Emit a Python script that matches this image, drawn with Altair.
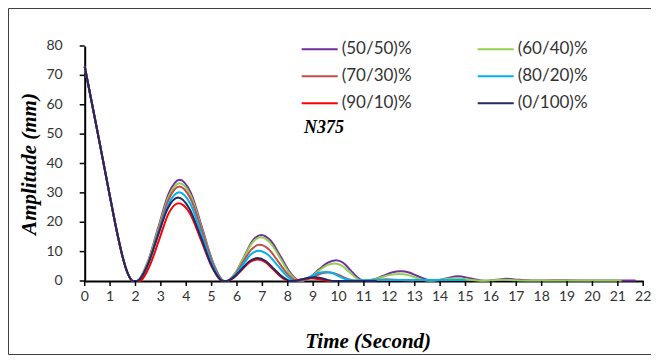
import altair as alt
import pandas as pd

SERIES = ["(50/50)%", "(60/40)%", "(70/30)%", "(80/20)%", "(90/10)%", "(0/100)%"]
COLORS = ["#7030A0", "#92D050", "#C0504D", "#00B0F0", "#FF0000", "#1F2A66"]

DESC_T = [0, 0.5, 1.0, 1.3, 1.5, 1.7, 1.9]
DESC_A = [73, 51, 28.5, 15.5, 8, 2.5, 0]

T_5050 = DESC_T + [2.05, 2.47, 2.90, 3.32, 3.74, 4.18, 4.62, 5.06, 5.5,
                   5.6, 5.94, 6.28, 6.61, 6.95, 7.33, 7.72, 8.10, 8.48,
                   8.52, 8.87, 9.21, 9.56, 9.9, 10.18, 10.46, 10.74, 11.02,
                   11.05, 11.4, 11.75, 12.1, 12.45, 12.78, 13.1, 13.43, 13.75,
                   14.22, 14.7, 15.22, 15.75,
                   16.2, 16.6, 17.1, 17.6,
                   18.5, 19.5, 20.5, 21.7]
A_5050 = DESC_A + [0, 6.2, 18.3, 30.0, 34.5, 30.0, 18.3, 6.2, 0,
                   0, 2.8, 8.3, 13.7, 15.7, 13.7, 8.3, 2.8, 0,
                   0, 1.3, 3.8, 6.2, 7.1, 6.2, 3.8, 1.3, 0,
                   0, 0.6, 1.7, 2.9, 3.3, 2.9, 1.7, 0.6, 0.05,
                   0.85, 1.6, 0.85, 0.05,
                   0.4, 0.75, 0.4, 0.15,
                   0.25, 0.2, 0.2, 0.2]

T_6040 = DESC_T + [2.05, 2.47, 2.90, 3.32, 3.74, 4.18, 4.62, 5.06, 5.5,
                   5.6, 5.93, 6.27, 6.60, 6.93, 7.31, 7.69, 8.06, 8.44,
                   8.5, 8.84, 9.18, 9.51, 9.85, 10.13, 10.4, 10.68, 10.95,
                   11.0, 11.35, 11.7, 12.05, 12.4, 12.7, 13.0, 13.3, 13.6,
                   14.1, 14.6, 15.1, 15.6,
                   16.05, 16.5, 17.0, 17.5,
                   18.5, 19.5, 20.5, 21.15]
A_6040 = DESC_A + [0, 6.0, 17.6, 29.0, 33.3, 29.0, 17.6, 6.0, 0,
                   0, 2.7, 7.9, 13.0, 14.9, 13.0, 7.9, 2.7, 0,
                   0, 1.1, 3.2, 5.2, 6.0, 5.2, 3.2, 1.1, 0,
                   0, 0.4, 1.3, 2.1, 2.4, 2.1, 1.3, 0.4, 0.05,
                   0.5, 0.95, 0.5, 0.05,
                   0.25, 0.45, 0.25, 0.15,
                   0.2, 0.2, 0.15, 0.15]

T_7030 = DESC_T + [2.08, 2.49, 2.91, 3.32, 3.73, 4.17, 4.62, 5.06, 5.5,
                   5.6, 5.92, 6.24, 6.56, 6.88, 7.26, 7.63, 8.01, 8.38,
                   8.45, 8.74, 9.03, 9.31, 9.6, 9.88, 10.15, 10.43, 10.7,
                   11.3, 11.9, 12.45, 13.0]
A_7030 = DESC_A + [0, 5.8, 17.1, 28.0, 32.2, 28.0, 17.1, 5.8, 0,
                   0, 2.2, 6.5, 10.7, 12.3, 10.7, 6.5, 2.2, 0,
                   0, 0.5, 1.5, 2.5, 2.9, 2.5, 1.5, 0.5, 0.05,
                   0.3, 0.6, 0.3, 0.05]

T_8020 = DESC_T + [2.08, 2.49, 2.90, 3.31, 3.72, 4.16, 4.60, 5.04, 5.48,
                   5.6, 5.91, 6.23, 6.54, 6.85, 7.21, 7.58, 7.94, 8.3,
                   8.35, 8.64, 8.93, 9.21, 9.5, 9.76, 10.03, 10.29, 10.55,
                   11.5, 13.0, 15.0]
A_8020 = DESC_A + [0, 5.4, 16.0, 26.3, 30.2, 26.3, 16.0, 5.4, 0,
                   0, 1.9, 5.5, 9.0, 10.3, 9.0, 5.5, 1.9, 0,
                   0, 0.6, 1.6, 2.7, 3.1, 2.7, 1.6, 0.6, 0.2,
                   0.3, 0.3, 0.3]

T_9010 = DESC_T + [2.15, 2.54, 2.93, 3.31, 3.70, 4.14, 4.58, 5.01, 5.45,
                   5.6, 5.9, 6.2, 6.5, 6.8, 7.12, 7.43, 7.75, 8.06,
                   8.1, 8.5, 8.9, 9.3, 9.7, 11.0]
A_9010 = DESC_A + [0, 4.8, 14.0, 23.1, 26.5, 23.1, 14.0, 4.8, 0,
                   0, 1.3, 3.9, 6.4, 7.3, 6.4, 3.9, 1.3, 0,
                   0, 0.5, 0.9, 0.5, 0, 0]

T_0100 = DESC_T + [2.05, 2.46, 2.87, 3.27, 3.68, 4.12, 4.57, 5.01, 5.45,
                   5.58, 5.89, 6.19, 6.50, 6.8, 7.13, 7.46, 7.79, 8.12,
                   8.2, 8.41, 8.63, 8.84, 9.05, 9.25, 9.45, 9.65, 9.85, 11.5]
A_0100 = DESC_A + [0, 5.1, 15.1, 24.7, 28.4, 24.7, 15.1, 5.1, 0,
                   0, 1.4, 4.1, 6.8, 7.8, 6.8, 4.1, 1.4, 0,
                   0, 0.2, 0.7, 1.1, 1.3, 1.1, 0.7, 0.2, 0, 0]

X_TICKS = list(range(0, 23))
Y_TICKS = list(range(0, 81, 10))

ANNOT_T = [9.43]
ANNOT_A = [52]
ANNOT_TXT = ["N375"]

rows = []
for name, ts, vs in zip(SERIES,
                        [T_5050, T_6040, T_7030, T_8020, T_9010, T_0100],
                        [A_5050, A_6040, A_7030, A_8020, A_9010, A_0100]):
    for i, (t, a) in enumerate(zip(ts, vs)):
        rows.append({"t": t, "A": a, "series": name, "i": i})
df = pd.DataFrame(rows)

W = 558.5
H = 235
X_SCALE = alt.Scale(domain=[0, 22], nice=False)
Y_SCALE = alt.Scale(domain=[0, 80], nice=False)
X_AXIS = alt.Axis(title="Time (Second)", ticks=False, labels=False,
                  titleX=283, titleY=60, titleBaseline="middle")
Y_AXIS = alt.Axis(title="Amplitude (mm)", ticks=False, labels=False,
                  titleAngle=270, titleX=-55, titleY=117.5,
                  titleAlign="center", titleBaseline="middle")

lines = alt.Chart(df).mark_line(strokeWidth=2, interpolate="monotone").encode(
    x=alt.X("t:Q", scale=X_SCALE, axis=X_AXIS),
    y=alt.Y("A:Q", scale=Y_SCALE, axis=Y_AXIS),
    color=alt.Color("series:N",
                    scale=alt.Scale(domain=SERIES, range=COLORS),
                    legend=alt.Legend(orient="none", legendX=216, legendY=-15.7,
                                      columns=2, direction="horizontal",
                                      symbolType="stroke",
                                      symbolSize=1296, symbolStrokeWidth=2,
                                      labelFont="Lato", labelFontSize=17,
                                      labelColor="#333333", labelOffset=3,
                                      columnPadding=62, rowPadding=-14.3,
                                      title="", padding=0)),
    order="i:Q",
)

xt = pd.DataFrame({"v": X_TICKS})
yt = pd.DataFrame({"v": Y_TICKS})

x_ticks = alt.Chart(xt).mark_rule(color="black", strokeWidth=1.5).encode(
    x=alt.X("v:Q", scale=X_SCALE), y=alt.value(H), y2=alt.value(H + 5))
x_labels = alt.Chart(xt).mark_text(
    font="Lato", fontSize=14, color="#333333", baseline="top", align="center"
).encode(x=alt.X("v:Q", scale=X_SCALE), y=alt.value(H + 9), text="v:Q")

y_ticks = alt.Chart(yt).mark_rule(color="black", strokeWidth=1.5).encode(
    y=alt.Y("v:Q", scale=Y_SCALE), x=alt.value(-5), x2=alt.value(0))
y_labels = alt.Chart(yt).mark_text(
    font="Lato", fontSize=14, color="#333333", baseline="middle", align="right"
).encode(y=alt.Y("v:Q", scale=Y_SCALE), x=alt.value(-22), text="v:Q")

annot = alt.Chart(pd.DataFrame({"t": ANNOT_T, "A": ANNOT_A, "txt": ANNOT_TXT})).mark_text(
    font="Liberation Serif", fontStyle="italic", fontWeight="bold",
    fontSize=18, color="black", align="center", baseline="middle"
).encode(x=alt.X("t:Q", scale=X_SCALE), y=alt.Y("A:Q", scale=Y_SCALE), text="txt:N")

frame = alt.Chart(pd.DataFrame({"k": [0]})).mark_rect(
    fill="transparent", stroke="#404040", strokeWidth=1
).encode(x=alt.value(-76.2), x2=alt.value(700), y=alt.value(-37.5), y2=alt.value(308.5))

chart = alt.layer(lines, x_ticks, x_labels, y_ticks, y_labels, annot, frame).properties(
    width=W, height=H,
    autosize=alt.AutoSizeParams(type="none"),
    padding={"left": 76.7, "top": 38, "right": 7.8, "bottom": 74},
).configure_view(stroke="transparent").configure_axis(
    grid=False, domainColor="black", domainWidth=2,
    titleFont="Liberation Serif", titleFontSize=21,
    titleFontStyle="italic", titleFontWeight="bold", titleColor="black",
)

chart.save("out.html", embed_options={"renderer": "svg", "actions": False})
